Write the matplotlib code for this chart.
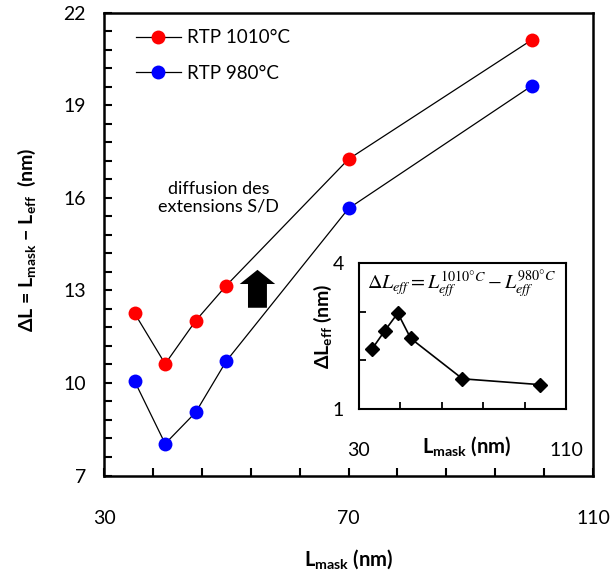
import matplotlib
matplotlib.use("Agg")
import numpy as np
import matplotlib.pyplot as plt
from matplotlib.lines import Line2D
from matplotlib.patches import FancyArrow

plt.rcParams['font.family'] = ['Lato', 'DejaVu Sans']
plt.rcParams['mathtext.fontset'] = 'custom'
plt.rcParams['mathtext.rm'] = 'Lato'
plt.rcParams['mathtext.bf'] = 'Lato:bold'
plt.rcParams['mathtext.it'] = 'Lato:italic'

# data
l_mask = [35, 40, 45, 50, 70, 100]
dl_1010 = [12.26, 10.62, 12.02, 13.16, 17.26, 21.13]
dl_980 = [10.06, 8.03, 9.05, 10.71, 15.66, 19.64]
dl_eff = [2.23, 2.61, 2.97, 2.45, 1.62, 1.50]
labels = ["RTP 1010°C", "RTP 980°C"]

fig = plt.figure(figsize=(6.12, 5.74), dpi=100)
ax = fig.add_axes([0.170, 0.1716, 0.799, 0.8058])

ax.plot(l_mask, dl_1010, color='black', lw=0.9, marker='o', ms=10,
        mfc='red', mec='red', mew=0)
ax.plot(l_mask, dl_980, color='black', lw=0.9, marker='o', ms=10,
        mfc='blue', mec='blue', mew=0)

ax.set_xlim(30, 110)
ax.set_ylim(7, 22)
ax.set_xticks([30, 70, 110])
ax.set_xticks(np.arange(30, 111, 8), minor=True)
ax.set_yticks([7, 10, 13, 16, 19, 22])
ax.set_yticks(np.arange(7, 22.01, 0.6), minor=True)
ax.tick_params(which='both', direction='in', width=1.5, length=6, top=False, right=False)
ax.tick_params(which='major', labelsize=14)
ax.tick_params(axis='y', which='major', pad=13)
ax.tick_params(axis='x', which='major', pad=25)
for s in ax.spines.values():
    s.set_linewidth(1.8)

ax.set_xlabel(r"$\mathbf{L_{mask}}$ (nm)", fontsize=14.5, fontweight='bold')
ax.xaxis.set_label_coords(0.5, -0.155)
ax.set_ylabel(r"ΔL = $\mathbf{L_{mask}}$ − $\mathbf{L_{eff}}$  (nm)",
              fontsize=14, fontweight='bold')
ax.yaxis.set_label_coords(-0.135, 0.51)

handles = [Line2D([], [], color='black', lw=0.9, marker='o', ms=10, mfc=c, mec=c, mew=0)
           for c in ['red', 'blue']]
ax.legend(handles, labels, loc='upper left', bbox_to_anchor=(0.065, 0.965),
          frameon=False, fontsize=13.5, handlelength=2.4, handletextpad=0.35,
          labelspacing=1.0, borderpad=0, borderaxespad=0)

ax.text(48.7, 16.0, "diffusion des\nextensions S/D", ha='center', va='center',
        fontsize=13, linespacing=1.1)

ax.add_patch(FancyArrow(55.1, 12.44, 0, 1.23, width=3.1, head_width=5.8,
                        head_length=0.46, length_includes_head=True,
                        color='black', lw=0))

# inset
axi = fig.add_axes([0.5866, 0.2875, 0.3382, 0.2543])
axi.plot(l_mask, dl_eff, color='black', lw=1.2, marker='D', ms=7.5,
         mfc='black', mec='black')
axi.set_xlim(30, 110)
axi.set_ylim(1, 4)
axi.set_xticks([30, 110])
axi.set_xticks([46, 62, 78, 94], minor=True)
axi.set_yticks([1, 4])
axi.set_yticks([2, 3], minor=True)
axi.tick_params(which='both', direction='in', width=1.3, length=5, top=False, right=False)
axi.tick_params(which='major', labelsize=14)
axi.tick_params(axis='y', which='major', pad=11)
axi.tick_params(axis='x', which='major', pad=24)
for s in axi.spines.values():
    s.set_linewidth(1.5)
axi.set_ylabel(r"ΔL$_\mathbf{eff}$ (nm)", fontsize=14, fontweight='bold')
axi.yaxis.set_label_coords(-0.12, 0.57)
axi.text(0.52, -0.255, r"$\mathbf{L_{mask}}$ (nm)", transform=axi.transAxes,
         ha='center', va='center', fontsize=14.5, fontweight='bold')
axi.text(0.04, 0.85, r"$\Delta L_{eff} = L_{eff}^{1010°C} - L_{eff}^{980°C}$",
         transform=axi.transAxes, ha='left', va='center', fontsize=14.5,
         math_fontfamily='stix')

fig.savefig("out.png", dpi=100)
